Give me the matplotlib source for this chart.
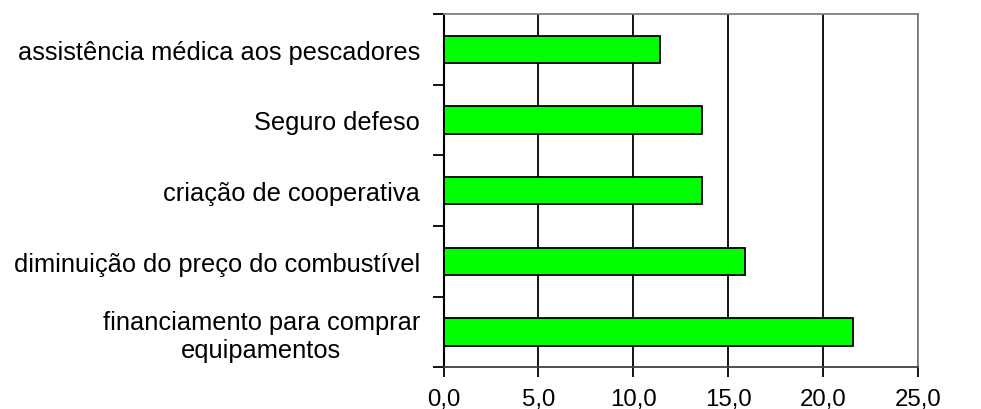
import matplotlib.pyplot as plt
import numpy as np
from matplotlib.ticker import FixedLocator, FuncFormatter

plt.rcParams["font.family"] = ["Liberation Sans", "DejaVu Sans"]

categories = [
    "financiamento para comprar\nequipamentos",
    "diminuição do preço do combustível",
    "criação de cooperativa",
    "Seguro defeso",
    "assistência médica aos pescadores",
]
values = [21.6, 15.9, 13.6, 13.6, 11.4]
x_ticks = [0, 5, 10, 15, 20, 25]

fig = plt.figure(figsize=(9.81, 4.10), dpi=100)
ax = fig.add_axes([443.5 / 981, 1 - 368.3 / 410, (918 - 443.5) / 981, (368.3 - 15) / 410])

y = np.arange(len(categories))
ax.barh(y, values, height=0.39, color="#00FF00", edgecolor="black", linewidth=1.3, zorder=3)

ax.set_xlim(0, 25)
ax.set_ylim(-0.5, len(categories) - 0.5)

ax.set_xticks(x_ticks)
ax.xaxis.set_major_formatter(FuncFormatter(lambda v, _: f"{v:.1f}".replace(".", ",")))
ax.xaxis.grid(True, color="black", linewidth=1.3, zorder=1)
ax.set_axisbelow(True)

ax.set_yticks(y)
ax.set_yticklabels(categories, multialignment="center")
ax.yaxis.set_minor_locator(FixedLocator(np.arange(-0.5, len(categories), 1.0)))
ax.tick_params(axis="y", which="major", length=0, pad=17, labelsize=18.3)
ax.tick_params(axis="y", which="minor", length=8, width=1.3, color="black")
ax.tick_params(axis="x", which="major", length=7, width=1.3, color="black", pad=8, labelsize=17.3)

for side in ["top", "right"]:
    ax.spines[side].set_color("#808080")
    ax.spines[side].set_linewidth(1.3)
ax.spines["left"].set_color("black")
ax.spines["left"].set_linewidth(1.5)
ax.spines["bottom"].set_color("#404040")
ax.spines["bottom"].set_linewidth(1.3)

fig.savefig("out.png", dpi=100)
